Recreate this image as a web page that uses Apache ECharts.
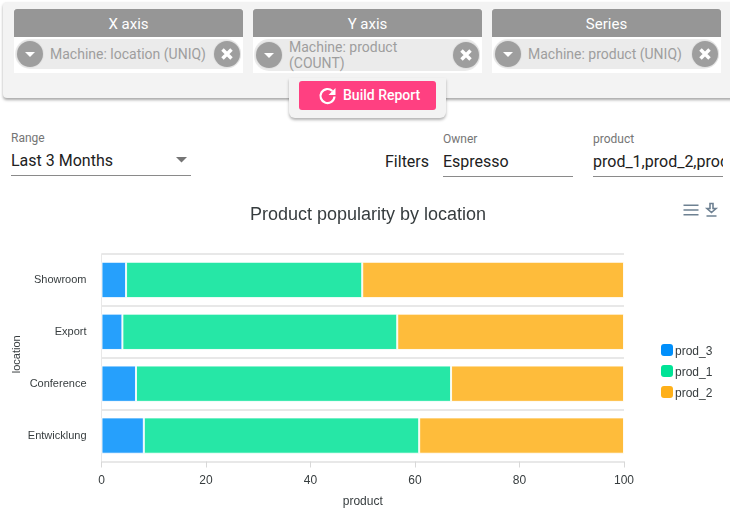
<!DOCTYPE html>
<html>
<head>
<meta charset="utf-8">
<script src="https://cdn.jsdelivr.net/npm/echarts@6/dist/echarts.min.js"></script>
<style>
  html, body { margin: 0; padding: 0; width: 730px; height: 511px; overflow: hidden; background: #fff; font-family: Roboto, sans-serif; }
  .abs { position: absolute; white-space: nowrap; }
  #panel { left: 3px; top: 2px; width: 740px; height: 96px; background: #f3f3f3; border-radius: 4px; box-shadow: 0 2px 3px rgba(0,0,0,.35); }
  .box { top: 9px; width: 229px; height: 64px; background: #fff; }
  .box .head { height: 28px; line-height: 30px; background: #969696; color: #fff; text-align: center; font-size: 15px; border-radius: 3px 3px 0 0; }
  .chip { position: absolute; left: 1px; top: 30px; width: 226px; height: 30px; background: #ebebeb; border-radius: 15px; color: #9e9e9e; font-size: 14px; line-height: 16px; }
  .chip.tall { top: 30px; height: 32px; }
  .chip .txt { position: absolute; left: 35px; top: 7px; }
  .chip.tall .txt { top: 0; white-space: normal; width: 160px; }
  .btn { position: absolute; top: 2px; width: 26px; height: 26px; border-radius: 50%; background: #9e9e9e; box-shadow: 0 0 0 1px #e2e2e2; }
  .chip.tall .btn { top: 3px; }
  .btn.l { left: 2px; } .btn.r { right: 1px; }
  .btn svg { position: absolute; left: 0; top: 0; }
  #wrap { left: 289px; top: 78px; width: 157px; height: 40px; background: #f3f3f3; border-radius: 0 0 6px 6px; box-shadow: 0 2px 3px rgba(0,0,0,.3); }
  #build { left: 299px; top: 81px; width: 137px; height: 29px; background: #ff4081; border-radius: 3px; color: #fff; font-size: 14px; font-weight: 500; line-height: 29px; }
  .lab { font-size: 12px; color: #757575; }
  .val { font-size: 16px; color: #212121; }
  .rule { height: 1px; background: #8a8a8a; }
  #chart { position: absolute; left: 0; top: 190px; width: 730px; height: 321px; }
</style>
</head>
<body>
<div class="abs" id="panel"></div>

<div class="abs box" style="left:14px">
  <div class="head">X axis</div>
  <div class="chip"><span class="btn l"><svg width="26" height="26"><path d="M8 11h10l-5 5z" fill="#fff"/></svg></span><span class="txt">Machine: location (UNIQ)</span><span class="btn r"><svg width="26" height="26"><path d="M8.500 8.500l9 9M17.500 8.500l-9 9" stroke="#fff" stroke-width="3.500"/></svg></span></div>
</div>
<div class="abs box" style="left:253px">
  <div class="head">Y axis</div>
  <div class="chip tall"><span class="btn l"><svg width="26" height="26"><path d="M8 11h10l-5 5z" fill="#fff"/></svg></span><span class="txt">Machine: product (COUNT)</span><span class="btn r"><svg width="26" height="26"><path d="M8.500 8.500l9 9M17.500 8.500l-9 9" stroke="#fff" stroke-width="3.500"/></svg></span></div>
</div>
<div class="abs box" style="left:492px">
  <div class="head">Series</div>
  <div class="chip"><span class="btn l"><svg width="26" height="26"><path d="M8 11h10l-5 5z" fill="#fff"/></svg></span><span class="txt">Machine: product (UNIQ)</span><span class="btn r"><svg width="26" height="26"><path d="M8.500 8.500l9 9M17.500 8.500l-9 9" stroke="#fff" stroke-width="3.500"/></svg></span></div>
</div>

<div class="abs" id="wrap"></div>
<div class="abs" id="build">
  <svg style="position:absolute;left:19px;top:5px" width="20" height="20" viewBox="0 0 20 20"><path d="M16.500 10.500a7 7 0 1 1-2.100-5.500" fill="none" stroke="#fff" stroke-width="2.200"/><path d="M17.500 2v7h-7z" fill="#fff"/></svg>
  <span style="position:absolute;left:44px">Build Report</span>
</div>

<div class="abs lab" style="left:11px;top:131px">Range</div>
<div class="abs val" style="left:11px;top:151px">Last 3 Months</div>
<svg class="abs" style="left:176px;top:157px" width="11" height="6"><path d="M0 0h11l-5.500 5.500z" fill="#757575"/></svg>
<div class="abs rule" style="left:11px;top:175px;width:180px"></div>

<div class="abs val" style="left:385px;top:152px">Filters</div>
<div class="abs lab" style="left:443px;top:132px">Owner</div>
<div class="abs val" style="left:443px;top:152px">Espresso</div>
<div class="abs rule" style="left:443px;top:176px;width:130px"></div>
<div class="abs lab" style="left:593px;top:132px">product</div>
<div class="abs val" style="left:593px;top:152px;width:130px;overflow:hidden">prod_1,prod_2,prod_3</div>
<div class="abs rule" style="left:593px;top:176px;width:130px"></div>

<div id="chart"></div>

<script>
var categories = ["Showroom", "Export", "Conference", "Entwicklung"];
var prod3 = [4.7, 4.0, 6.6, 8.1];
var prod1 = [45.2, 52.6, 60.3, 52.7];
var prod2 = [50.1, 43.4, 33.1, 39.2];

var sans = '"Liberation Sans", Arial, sans-serif';
var textColor = "#373d3f";
var gridColor = "#e8e8e8";

function barSeries(name, values, color) {
  return {
    name: name,
    type: "bar",
    stack: "total",
    barWidth: "70%",
    data: values,
    itemStyle: { color: color, opacity: 0.85, borderColor: "#fff", borderWidth: 1 }
  };
}

var chart = echarts.init(document.getElementById("chart"));
chart.setOption({
  animation: false,
  textStyle: { fontFamily: sans },
  title: {
    text: "Product popularity by location",
    left: 363, top: 11, textAlign: "center",
    textStyle: { fontFamily: sans, fontSize: 18, fontWeight: "normal", color: textColor }
  },
  toolbox: {
    right: 7, top: 10, padding: 0, itemSize: 15, itemGap: 2,
    iconStyle: { borderColor: "#6e8192", borderWidth: 1.6, color: "none" },
    feature: {
      myMenu: { show: true, title: "Menu", icon: "path://M0 2H16M0 7H16M0 12H16", onclick: function () {} },
      // the two bare moves widen the icon box so the glyph keeps its narrow size
      myDownload: { show: true, title: "Download", icon: "path://M-1 -1M14 14M3.500 0H6.500V5H9.500L5 9L.500 5H3.500ZM0 12.500H10", onclick: function () {} }
    }
  },
  legend: {
    orient: "vertical", left: 656, top: 149, itemWidth: 12, itemHeight: 12, itemGap: 7,
    icon: "roundRect",
    itemStyle: { opacity: 1, borderWidth: 0 },
    formatter: "{t|{name}}",
    textStyle: {
      fontFamily: sans, fontSize: 12, color: textColor, padding: [0, 0, 0, -3],
      rich: { t: { fontFamily: sans, fontSize: 12, color: textColor, padding: [4, 0, 0, 0] } }
    },
    data: ["prod_3", "prod_1", "prod_2"]
  },
  grid: { left: 101.5, top: 64, width: 522.5, height: 207.5, outerBoundsMode: "none" },
  xAxis: {
    type: "value", position: "bottom", min: 0, max: 100, interval: 20,
    name: "product", nameLocation: "middle", nameGap: 34,
    nameTextStyle: { fontSize: 12, color: textColor },
    axisLine: { show: true, lineStyle: { color: gridColor, width: 1 } },
    axisTick: { show: true, length: 6, lineStyle: { color: "#d8d8d8" } },
    axisLabel: { fontSize: 12, color: textColor, margin: 13 },
    splitLine: { show: false }
  },
  yAxis: {
    type: "category", inverse: true, data: categories,
    name: "location", nameLocation: "middle", nameGap: 79, nameRotate: 90, nameMoveOverlap: false,
    nameTextStyle: { fontSize: 11, color: textColor, padding: [0, 0, 0, 7] },
    axisLine: { show: true, lineStyle: { color: gridColor, width: 1 } },
    axisTick: { show: false },
    axisLabel: { fontSize: 11, color: textColor, margin: 15, padding: [0, 0, 4, 0] },
    splitLine: { show: true, lineStyle: { color: gridColor, width: 2 } }
  },
  series: [
    barSeries("prod_3", prod3, "#008ffb"),
    barSeries("prod_1", prod1, "#00e396"),
    barSeries("prod_2", prod2, "#feb019")
  ]
});
</script>
</body>
</html>
